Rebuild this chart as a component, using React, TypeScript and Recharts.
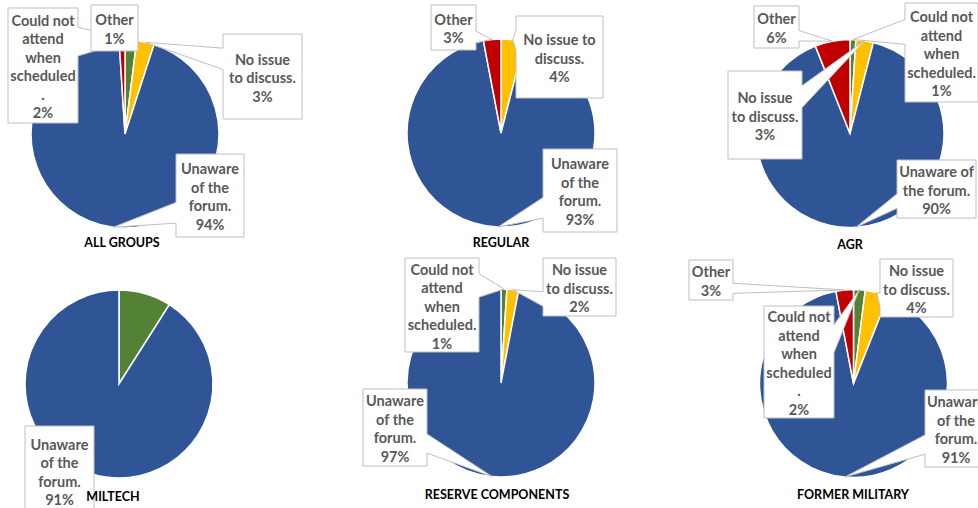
import React from "react"
import { PieChart, Pie, Cell } from "recharts"

const CATEGORIES = ["Could not attend when scheduled.", "No issue to discuss.", "Unaware of the forum.", "Other"]
const COLORS = ["#548235", "#FFC000", "#2F5597", "#C00000"]
const GROUPS = ["ALL GROUPS", "REGULAR", "AGR", "MILTECH", "RESERVE COMPONENTS", "FORMER MILITARY"]

// percent per category (same order as CATEGORIES), 0 = not shown
const ALL_GROUPS = [2, 3, 94, 1]
const REGULAR = [0, 4, 93, 3]
const AGR = [1, 3, 90, 6]
const MILTECH = [9, 0, 91, 0]
const RESERVE_COMPONENTS = [1, 2, 97, 0]
const FORMER_MILITARY = [2, 4, 91, 3]
const VALUES = [ALL_GROUPS, REGULAR, AGR, MILTECH, RESERVE_COMPONENTS, FORMER_MILITARY]

type Box = { x: number; y: number; w: number; h: number; lines: string[] }

// where each pie sits and where its callout boxes were placed by hand
const LAYOUT: { cx: number; cy: number; tx: number; ty: number; boxes: Record<number, Box> }[] = [
  {
    cx: 125, cy: 134, tx: 122, ty: 243,
    boxes: {
      0: { x: 8, y: 8, w: 70, h: 115, lines: ["Could not", "attend", "when", "scheduled", "."] },
      1: { x: 223, y: 34, w: 79, h: 85, lines: ["No issue", "to discuss."] },
      2: { x: 176, y: 154, w: 68, h: 83, lines: ["Unaware", "of the", "forum."] },
      3: { x: 91, y: 5, w: 47, h: 46, lines: ["Other"] },
    },
  },
  {
    cx: 501, cy: 133, tx: 501, ty: 243,
    boxes: {
      1: { x: 516, y: 16, w: 87, h: 82, lines: ["No issue to", "discuss."] },
      2: { x: 543, y: 149, w: 74, h: 83, lines: ["Unaware", "of the", "forum."] },
      3: { x: 431, y: 5, w: 45, h: 45, lines: ["Other"] },
    },
  },
  {
    cx: 850, cy: 133.5, tx: 850, ty: 245,
    boxes: {
      0: { x: 905, y: 3, w: 73, h: 99, lines: ["Could not", "attend", "when", "scheduled."] },
      1: { x: 728, y: 71, w: 74, h: 88, lines: ["No issue", "to discuss."] },
      2: { x: 897, y: 160, w: 79, h: 58, lines: ["Unaware of", "the forum."] },
      3: { x: 754, y: 6, w: 45, h: 42, lines: ["Other"] },
    },
  },
  {
    cx: 119, cy: 384, tx: 113, ty: 497,
    boxes: {
      2: { x: 25, y: 426, w: 69, h: 90, lines: ["Unaware", "of the", "forum."] },
    },
  },
  {
    cx: 501, cy: 383, tx: 497, ty: 495,
    boxes: {
      0: { x: 405, y: 258, w: 74, h: 94, lines: ["Could not", "attend", "when", "scheduled."] },
      1: { x: 543, y: 258, w: 73, h: 58, lines: ["No issue", "to discuss."] },
      2: { x: 363, y: 389, w: 64, h: 77, lines: ["Unaware", "of the", "forum."] },
    },
  },
  {
    cx: 853.5, cy: 383.5, tx: 853, ty: 495,
    boxes: {
      0: { x: 764, y: 306, w: 70, h: 112, lines: ["Could not", "attend", "when", "scheduled", "."] },
      1: { x: 880, y: 259, w: 73, h: 58, lines: ["No issue", "to discuss."] },
      2: { x: 925, y: 390, w: 62, h: 77, lines: ["Unaware", "of the", "forum."] },
      3: { x: 689, y: 260, w: 44, h: 40, lines: ["Other"] },
    },
  },
]

const RADIUS = 94
const FONT = "Lato, 'Open Sans', sans-serif"
const LINE_H = 18.5

// Excel style wedge-rect callout: box with a pointer to (tx, ty)
function calloutPath(b: Box, tx: number, ty: number) {
  const { x, y, w, h } = b
  const TL = `${x},${y}`, TR = `${x + w},${y}`, BR = `${x + w},${y + h}`, BL = `${x},${y + h}`
  const inside = tx >= x && tx <= x + w && ty >= y && ty <= y + h
  if (inside) return `M${TL} L${TR} L${BR} L${BL} Z`
  const dx = tx - (x + w / 2)
  const dy = ty - (y + h / 2)
  const tip = `${tx},${ty}`
  if (Math.abs(dy) > Math.abs((dx * h) / w)) {
    const f = dx > 0 ? [7, 10] : [2, 5]
    const b1 = x + (w * f[0]) / 12, b2 = x + (w * f[1]) / 12
    if (dy < 0) return `M${TL} L${b1},${y} L${tip} L${b2},${y} L${TR} L${BR} L${BL} Z`
    return `M${TL} L${TR} L${BR} L${b2},${y + h} L${tip} L${b1},${y + h} L${BL} Z`
  }
  const f = dy > 0 ? [7, 10] : [2, 5]
  const b1 = y + (h * f[0]) / 12, b2 = y + (h * f[1]) / 12
  if (dx > 0) return `M${TL} L${TR} L${x + w},${b1} L${tip} L${x + w},${b2} L${BR} L${BL} Z`
  return `M${TL} L${TR} L${BR} L${BL} L${x},${b2} L${tip} L${x},${b1} Z`
}

const makeLabel = (data: { cat: number; value: number }[], boxes: Record<number, Box>) => (props: any) => {
  const entry = data[props.index]
  if (!entry) return null
  const b = boxes[entry.cat]
  if (!b) return null
  const rad = (-props.midAngle * Math.PI) / 180
  const tx = props.cx + props.outerRadius * Math.cos(rad)
  const ty = props.cy + props.outerRadius * Math.sin(rad)
  const lines = [...b.lines, `${entry.value}%`]
  const mid = b.x + b.w / 2
  const first = b.y + b.h / 2 + 1 - ((lines.length - 1) * LINE_H) / 2
  return (
    <g key={`lbl-${entry.cat}`}>
      <path d={calloutPath(b, tx, ty)} fill="#fff" stroke="#BFBFBF" strokeWidth={1} />
      <text textAnchor="middle" fontFamily={FONT} fontSize={14.5} fontWeight={700} fill="#595959">
        {lines.map((l, i) => (
          <tspan key={i} x={mid} y={first + i * LINE_H} dominantBaseline="central">
            {l}
          </tspan>
        ))}
      </text>
    </g>
  )
}

export default function App() {
  return (
    <div style={{ position: "absolute", left: 0, top: 0, width: 978, height: 508, background: "#fff", overflow: "hidden" }}>
      <PieChart width={978} height={508} margin={{ top: 0, right: 0, bottom: 0, left: 0 }}>
        {VALUES.map((vals, g) => {
          const data = vals
            .map((v, i) => ({ name: CATEGORIES[i], cat: i, value: v }))
            .filter((d) => d.value > 0)
          const lay = LAYOUT[g]
          return (
            <Pie
              key={GROUPS[g]}
              data={data}
              dataKey="value"
              nameKey="name"
              cx={lay.cx}
              cy={lay.cy}
              outerRadius={RADIUS}
              startAngle={90}
              endAngle={-270}
              stroke="#fff"
              strokeWidth={1.5}
              labelLine={false}
              label={makeLabel(data, lay.boxes)}
              isAnimationActive={false}
            >
              {data.map((d) => (
                <Cell key={d.cat} fill={COLORS[d.cat]} />
              ))}
            </Pie>
          )
        })}
      </PieChart>
      {GROUPS.map((t, g) => (
        <div
          key={t}
          style={{
            position: "absolute",
            left: LAYOUT[g].tx - 100,
            top: LAYOUT[g].ty - 9,
            width: 200,
            textAlign: "center",
            fontFamily: FONT,
            fontWeight: 700,
            fontSize: 12.5,
            lineHeight: "18px",
            color: "#000",
          }}
        >
          {t}
        </div>
      ))}
    </div>
  )
}
